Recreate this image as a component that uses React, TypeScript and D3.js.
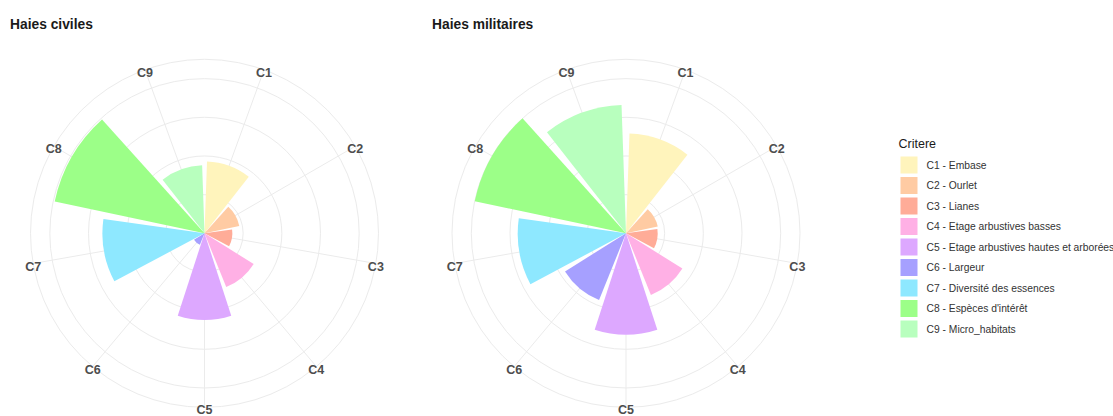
import React, { useEffect, useRef } from "react";
import * as d3 from "d3";

// ── Data ─────────────────────────────────────────────────────────────────
const categories = ["C1", "C2", "C3", "C4", "C5", "C6", "C7", "C8", "C9"];
const legendLabels = [
  "C1 - Embase",
  "C2 - Ourlet",
  "C3 - Lianes",
  "C4 - Etage arbustives basses",
  "C5 - Etage arbustives hautes et arborées",
  "C6 - Largeur",
  "C7 - Diversité des essences",
  "C8 - Espèces d'intérêt",
  "C9 - Micro_habitats",
];
const civiles = [46.5, 23, 18, 37.5, 56, 8, 66, 99, 44];
const militaires = [64.5, 21, 20.5, 43, 65.5, 46.5, 70, 100, 83];
const radialBreaks = [25, 50, 75, 100];
const facetTitles = ["Haies civiles", "Haies militaires"];

const COLORS = [
  "#FFF4BC", "#FFCBA3", "#FFAC98", "#FFB0E5", "#DDA8FF",
  "#A6A0FF", "#8EE8FF", "#9CFF88", "#B8FFBE",
];

const WIDTH = 1113;
const HEIGHT = 416;

const App: React.FC = () => {
  const svgRef = useRef<SVGSVGElement | null>(null);

  useEffect(() => {
    if (!svgRef.current) return;
    const root = d3.select(svgRef.current);
    root.selectAll("*").remove();

    const R_OUTER = 174;
    const R_MAX = (R_OUTER * 0.4) / 0.45;
    const CY = 233.3;
    const panels = [
      { title: facetTitles[0], values: civiles, cx: 204.5, tx: 10 },
      { title: facetTitles[1], values: militaires, cx: 626, tx: 432 },
    ];

    const theta = d3
      .scaleBand<string>()
      .domain(categories)
      .range([0, 2 * Math.PI])
      .paddingInner(0.1)
      .paddingOuter(0.05);
    const r = d3.scaleLinear().domain([0, 100]).range([0, R_MAX]);
    const color = d3.scaleOrdinal<string, string>().domain(categories).range(COLORS);

    root.append("rect").attr("width", WIDTH).attr("height", HEIGHT).attr("fill", "#ffffff");

    panels.forEach((p) => {
      const g = root.append("g").attr("transform", `translate(${p.cx},${CY})`);
      const mid = (c: string) => (theta(c) ?? 0) + theta.bandwidth() / 2;

      // ── Grille ──────────────────────────────────────────────────────────
      g.selectAll("line.spoke")
        .data(categories)
        .enter()
        .append("line")
        .attr("x1", 0)
        .attr("y1", 0)
        .attr("x2", (c) => R_OUTER * Math.sin(mid(c)))
        .attr("y2", (c) => -R_OUTER * Math.cos(mid(c)))
        .attr("stroke", "#EBEBEB")
        .attr("stroke-width", 1);

      g.selectAll("circle.ring")
        .data([...radialBreaks.map((b) => r(b)), R_OUTER])
        .enter()
        .append("circle")
        .attr("r", (d) => d)
        .attr("fill", "none")
        .attr("stroke", "#EBEBEB")
        .attr("stroke-width", 1);

      // ── Barres ──────────────────────────────────────────────────────────
      const arc = d3
        .arc<number>()
        .innerRadius(0)
        .outerRadius((v) => r(v))
        .startAngle((_, i) => theta(categories[i]) ?? 0)
        .endAngle((_, i) => (theta(categories[i]) ?? 0) + theta.bandwidth());

      g.selectAll("path.bar")
        .data(p.values)
        .enter()
        .append("path")
        .attr("d", (v, i) => arc(v, i) as string)
        .attr("fill", (_, i) => color(categories[i]));

      // ── Libellés ────────────────────────────────────────────────────────
      g.selectAll("text.lab")
        .data(categories)
        .enter()
        .append("text")
        .attr("x", (c) => R_OUTER * Math.sin(mid(c)))
        .attr("y", (c) => -R_OUTER * Math.cos(mid(c)) + 3)
        .attr("text-anchor", "middle")
        .attr("dominant-baseline", "central")
        .attr("font-family", "'Liberation Sans', Arial, sans-serif")
        .attr("font-weight", "bold")
        .attr("font-size", 12.5)
        .attr("fill", "#4D4D4D")
        .text((c) => c);

      root
        .append("text")
        .attr("x", p.tx)
        .attr("y", 29)
        .attr("font-family", "'Liberation Sans', Arial, sans-serif")
        .attr("font-weight", "bold")
        .attr("font-size", 13.8)
        .attr("fill", "#1A1A1A")
        .text(p.title);
    });

    // ── Légende ───────────────────────────────────────────────────────────
    const lg = root.append("g").attr("transform", "translate(898.5,0)");
    lg.append("text")
      .attr("x", 0)
      .attr("y", 148)
      .attr("font-family", "'Liberation Sans', Arial, sans-serif")
      .attr("font-size", 12.5)
      .attr("fill", "#1A1A1A")
      .text("Critere");

    const PITCH = 20.5;
    const items = lg
      .selectAll("g.item")
      .data(categories)
      .enter()
      .append("g")
      .attr("transform", (_, i) => `translate(0,${156.5 + i * PITCH})`);
    items
      .append("rect")
      .attr("x", 2)
      .attr("width", 17)
      .attr("height", 17)
      .attr("fill", (c) => color(c));
    items
      .append("text")
      .attr("x", 28)
      .attr("y", 8.5)
      .attr("dominant-baseline", "central")
      .attr("font-family", "'Liberation Sans', Arial, sans-serif")
      .attr("font-size", 10.3)
      .attr("fill", "#333333")
      .text((_, i) => legendLabels[i]);
  }, []);

  return (
    <div style={{ position: "absolute", left: 0, top: 0 }}>
      <svg ref={svgRef} width={WIDTH} height={HEIGHT} style={{ display: "block" }} />
    </div>
  );
};

export default App;
